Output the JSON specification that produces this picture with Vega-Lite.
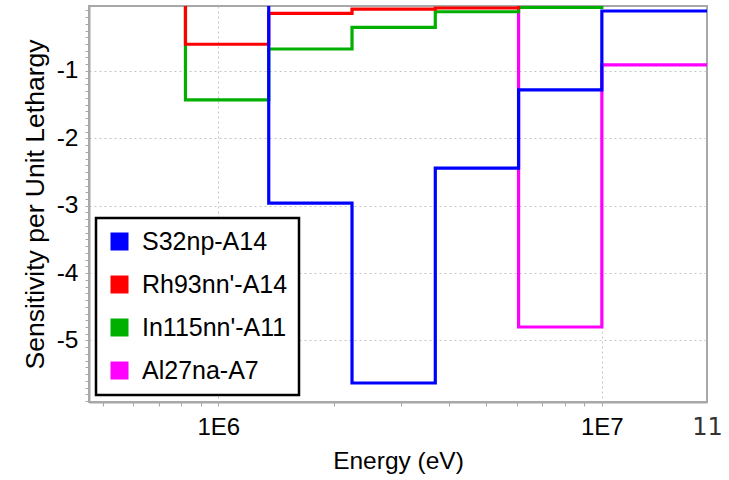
{
  "$schema": "https://vega.github.io/schema/vega-lite/v6.json",
  "autosize": "none",
  "width": 618,
  "height": 396,
  "padding": {"left": 89, "top": 6, "right": 22, "bottom": 78},
  "background": "white",
  "config": {
    "font": "Liberation Sans",
    "view": {"stroke": "#a8a8a8", "strokeWidth": 2}
  },
  "data": {
    "values": [
      {"series": "Al27na-A7", "energy": 400000, "sens": 0},
      {"series": "Al27na-A7", "energy": 6065300, "sens": -4.80},
      {"series": "Al27na-A7", "energy": 10000000, "sens": -0.91},
      {"series": "Al27na-A7", "energy": 20000000, "sens": -0.91},
      {"series": "In115nn'-A11", "energy": 400000, "sens": 0},
      {"series": "In115nn'-A11", "energy": 820850, "sens": -1.43},
      {"series": "In115nn'-A11", "energy": 1353400, "sens": -0.674},
      {"series": "In115nn'-A11", "energy": 2231300, "sens": -0.352},
      {"series": "In115nn'-A11", "energy": 3678800, "sens": -0.121},
      {"series": "In115nn'-A11", "energy": 6065300, "sens": -0.055},
      {"series": "In115nn'-A11", "energy": 10000000, "sens": 0},
      {"series": "In115nn'-A11", "energy": 20000000, "sens": 0},
      {"series": "Rh93nn'-A14", "energy": 400000, "sens": 0},
      {"series": "Rh93nn'-A14", "energy": 820850, "sens": -0.604},
      {"series": "Rh93nn'-A14", "energy": 1353400, "sens": -0.144},
      {"series": "Rh93nn'-A14", "energy": 2231300, "sens": -0.081},
      {"series": "Rh93nn'-A14", "energy": 3678800, "sens": -0.066},
      {"series": "Rh93nn'-A14", "energy": 6065300, "sens": 0},
      {"series": "Rh93nn'-A14", "energy": 20000000, "sens": 0},
      {"series": "S32np-A14", "energy": 400000, "sens": 0},
      {"series": "S32np-A14", "energy": 1353400, "sens": -2.962},
      {"series": "S32np-A14", "energy": 2231300, "sens": -5.631},
      {"series": "S32np-A14", "energy": 3678800, "sens": -2.443},
      {"series": "S32np-A14", "energy": 6065300, "sens": -1.282},
      {"series": "S32np-A14", "energy": 10000000, "sens": -0.110},
      {"series": "S32np-A14", "energy": 20000000, "sens": -0.110}
    ]
  },
  "mark": {"type": "line", "interpolate": "step-after", "strokeWidth": 3.2, "clip": true},
  "encoding": {
    "x": {
      "field": "energy",
      "type": "quantitative",
      "scale": {"type": "log", "domain": [460000, 18800000], "nice": false},
      "axis": {
        "title": "Energy (eV)",
        "titleFontSize": 24.5,
        "titleFontWeight": "normal",
        "titleColor": "black",
        "titlePadding": 10,
        "values": [500000, 600000, 700000, 800000, 900000, 1000000, 2000000, 3000000, 4000000, 5000000, 6000000, 7000000, 8000000, 9000000, 10000000, 18800000],
        "labelExpr": "datum.value == 1000000 ? '1E6' : datum.value == 10000000 ? '1E7' : datum.value > 15000000 ? '11' : ''",
        "labelFontSize": 24,
        "labelColor": {"condition": {"test": "datum.value > 15000000", "value": "#333333"}, "value": "black"},
        "labelFont": {"condition": {"test": "datum.value > 15000000", "value": "DejaVu Sans"}, "value": "Liberation Sans"},
        "labelFlush": false,
        "labelBound": false,
        "labelOverlap": false,
        "labelPadding": 9,
        "tickSize": 4,
        "tickColor": "#a8a8a8",
        "tickOpacity": {"condition": {"test": "datum.value > 15000000", "value": 0}, "value": 1},
        "domainColor": "#a8a8a8",
        "domainWidth": 2,
        "grid": true,
        "gridColor": "#c4c4c4",
        "gridDash": [2, 3],
        "gridOpacity": {"condition": {"test": "datum.value == 1000000 || datum.value == 10000000", "value": 1}, "value": 0}
      }
    },
    "y": {
      "field": "sens",
      "type": "quantitative",
      "scale": {"domain": [-5.913, -0.036], "nice": false, "zero": false},
      "axis": {
        "title": "Sensitivity per Unit Lethargy",
        "titleFontSize": 26.5,
        "titleFontWeight": "normal",
        "titleColor": "black",
        "titlePadding": 7,
        "values": [-5.9, -5.8, -5.7, -5.6, -5.5, -5.4, -5.3, -5.2, -5.1, -5, -4.9, -4.8, -4.7, -4.6, -4.5, -4.4, -4.3, -4.2, -4.1, -4, -3.9, -3.8, -3.7, -3.6, -3.5, -3.4, -3.3, -3.2, -3.1, -3, -2.9, -2.8, -2.7, -2.6, -2.5, -2.4, -2.3, -2.2, -2.1, -2, -1.9, -1.8, -1.7, -1.6, -1.5, -1.4, -1.3, -1.2, -1.1, -1, -0.9, -0.8, -0.7, -0.6, -0.5, -0.4, -0.3, -0.2, -0.1],
        "labelExpr": "abs(datum.value - round(datum.value)) < 0.001 ? '' + round(datum.value) : ''",
        "labelFontSize": 24.5,
        "labelColor": "black",
        "labelOverlap": false,
        "labelFlush": false,
        "labelBound": false,
        "labelPadding": 7,
        "tickSize": 4,
        "tickColor": "#a8a8a8",
        "domainColor": "#a8a8a8",
        "domainWidth": 2,
        "grid": true,
        "gridColor": "#c4c4c4",
        "gridDash": [2, 3],
        "gridOpacity": {"condition": {"test": "abs(datum.value - round(datum.value)) < 0.001", "value": 1}, "value": 0}
      }
    },
    "color": {
      "field": "series",
      "type": "nominal",
      "scale": {
        "domain": ["S32np-A14", "Rh93nn'-A14", "In115nn'-A11", "Al27na-A7"],
        "range": ["#0000ff", "#ff0000", "#00b000", "#ff00ff"]
      },
      "legend": {
        "title": null,
        "orient": "none",
        "legendX": 7,
        "legendY": 212,
        "symbolType": "square",
        "symbolSize": 324,
        "symbolStrokeWidth": 0,
        "labelFontSize": 25,
        "labelColor": "black",
        "labelOffset": 10,
        "labelLimit": 300,
        "rowPadding": 17,
        "padding": 11,
        "strokeColor": "black",
        "fillColor": "white",
        "encode": {
          "legend": {"update": {"strokeWidth": {"value": 2.5}}},
          "symbols": {"update": {"fill": {"scale": "color", "field": "value"}, "stroke": {"value": "transparent"}, "opacity": {"value": 1}}}
        }
      }
    }
  }
}
